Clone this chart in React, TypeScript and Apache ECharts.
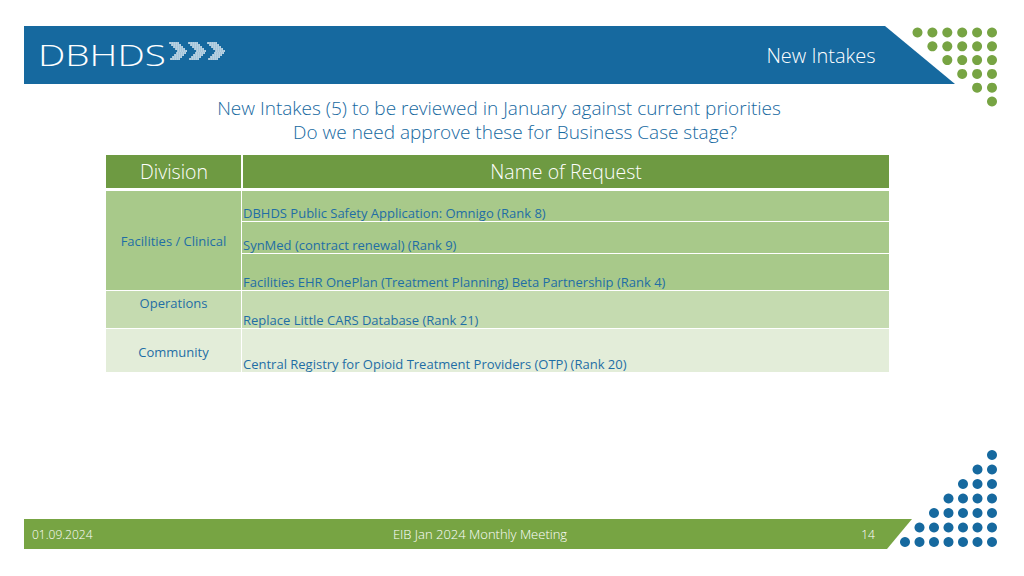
import React, { useEffect, useRef } from "react";
import * as echarts from "echarts";

// ---- Data ----
const slideTitle = "New Intakes";
const headingLine1 = "New Intakes (5) to be reviewed in January against current priorities";
const headingLine2 = "Do we need approve these for Business Case stage?";
const tableHeaders = ["Division", "Name of Request"];
const divisions = ["Facilities / Clinical", "Operations", "Community"];
const requests = [
  "DBHDS Public Safety Application: Omnigo (Rank 8)",
  "SynMed (contract renewal) (Rank 9)",
  "Facilities EHR OnePlan (Treatment Planning) Beta Partnership (Rank 4)",
  "Replace Little CARS Database (Rank 21)",
  "Central Registry for Opioid Treatment Providers (OTP) (Rank 20)",
];
const requestDivision = [0, 0, 0, 1, 2];
const footerDate = "01.09.2024";
const footerTitle = "EIB Jan 2024 Monthly Meeting";
const pageNumber = "14";
const topDotRows = [6, 5, 4, 3, 2, 1];
const bottomDotRows = [1, 2, 3, 4, 5, 6, 7];

// ---- Layout (positions / styles) ----
const BLUE = "#16699f";
const GREEN = "#77a443";
const TEXT_BLUE = "#1f6ea5";
const HEADER_GREEN = "#6e9a42";
const DIV_COLORS = ["#a8c98a", "#c5dbb0", "#e3edd9"];
const requestRowBounds = [
  [191, 221],
  [222, 253],
  [254, 290],
  [291, 328],
  [329, 372],
];
const divisionLabelY = [241, 303, 352];
const COL1_X0 = 106, COL1_X1 = 241, COL2_X0 = 243, COL2_X1 = 889;
const FONT = "'Open Sans', Lato, sans-serif";
const CELL_FONT = "'Open Sans', Lato, sans-serif";

function buildGraphics(): any[] {
  const g: any[] = [];
  g.push({
    type: "polygon",
    shape: { points: [[24, 26], [885, 26], [955, 84], [24, 84]] },
    style: { fill: BLUE },
  });
  g.push({
    type: "text",
    x: 38,
    y: 54,
    scaleX: 1.29,
    style: {
      text: "DBHDS",
      fill: "#ffffff",
      font: `300 30px ${FONT}`,
      verticalAlign: "middle",
    },
  });
  for (let k = 0; k < 3; k++) {
    const ox = 170 + k * 19;
    const oy = 43;
    const h = 17;
    const t = 8.5;
    const step = 2.0;
    for (let yy = 0; yy <= h + 0.01; yy += step) {
      const dy = h / 2 - Math.abs(yy - h / 2);
      for (let xx = dy; xx <= dy + t + 0.01; xx += step) {
        g.push({
          type: "circle",
          shape: { cx: ox + xx, cy: oy + yy, r: 0.85 },
          style: { fill: "#ffffff" },
          silent: true,
        });
      }
    }
  }
  g.push({
    type: "text",
    x: 821,
    y: 55,
    style: {
      text: slideTitle,
      fill: "#ffffff",
      font: `300 20px ${FONT}`,
      align: "center",
      verticalAlign: "middle",
    },
  });
  topDotRows.forEach((n, r) => {
    for (let i = 0; i < n; i++) {
      g.push({
        type: "circle",
        shape: { cx: 992 - i * 14.9, cy: 32.5 + r * 13.8, r: 5 },
        style: { fill: GREEN },
      });
    }
  });
  bottomDotRows.forEach((n, r) => {
    for (let i = 0; i < n; i++) {
      g.push({
        type: "circle",
        shape: { cx: 992 - i * 14.5, cy: 455 + r * 14.5, r: 5 },
        style: { fill: BLUE },
      });
    }
  });
  g.push({
    type: "text",
    x: 499,
    y: 107.5,
    style: {
      text: headingLine1,
      fill: BLUE,
      font: `300 19px ${FONT}`,
      align: "center",
      verticalAlign: "middle",
    },
  });
  g.push({
    type: "text",
    x: 515,
    y: 131.5,
    style: {
      text: headingLine2,
      fill: BLUE,
      font: `300 19px ${FONT}`,
      align: "center",
      verticalAlign: "middle",
    },
  });
  g.push({
    type: "rect",
    shape: { x: COL1_X0, y: 155, width: COL1_X1 - COL1_X0, height: 33 },
    style: { fill: HEADER_GREEN },
  });
  g.push({
    type: "rect",
    shape: { x: COL2_X0, y: 155, width: COL2_X1 - COL2_X0, height: 33 },
    style: { fill: HEADER_GREEN },
  });
  g.push({
    type: "text",
    x: 174,
    y: 171,
    style: { text: tableHeaders[0], fill: "#ffffff", font: `300 19.5px ${FONT}`, align: "center", verticalAlign: "middle" },
  });
  g.push({
    type: "text",
    x: 566,
    y: 171,
    style: { text: tableHeaders[1], fill: "#ffffff", font: `300 19.5px ${FONT}`, align: "center", verticalAlign: "middle" },
  });
  divisions.forEach((d, di) => {
    const rows = requestDivision
      .map((v, i) => (v === di ? i : -1))
      .filter((i) => i >= 0);
    const y0 = requestRowBounds[rows[0]][0];
    const y1 = requestRowBounds[rows[rows.length - 1]][1];
    g.push({
      type: "rect",
      shape: { x: COL1_X0, y: y0, width: COL1_X1 - COL1_X0, height: y1 - y0 },
      style: { fill: DIV_COLORS[di] },
    });
    g.push({
      type: "text",
      x: 173.5,
      y: divisionLabelY[di],
      style: { text: d, fill: TEXT_BLUE, font: `13px ${CELL_FONT}`, align: "center", verticalAlign: "middle" },
    });
  });
  requests.forEach((r, i) => {
    const [y0, y1] = requestRowBounds[i];
    g.push({
      type: "rect",
      shape: { x: COL2_X0 - 1, y: y0, width: COL2_X1 - COL2_X0 + 1, height: y1 - y0 },
      style: { fill: DIV_COLORS[requestDivision[i]] },
    });
    g.push({
      type: "text",
      x: COL2_X0,
      y: y1 - 8,
      style: { text: r, fill: TEXT_BLUE, font: `13px ${CELL_FONT}`, align: "left", verticalAlign: "middle" },
    });
  });
  g.push({
    type: "polygon",
    shape: { points: [[24, 519], [912, 519], [887, 549], [24, 549]] },
    style: { fill: GREEN },
  });
  g.push({
    type: "text",
    x: 32,
    y: 534,
    style: { text: footerDate, fill: "#ffffff", font: `300 12px ${FONT}`, align: "left", verticalAlign: "middle" },
  });
  g.push({
    type: "text",
    x: 480,
    y: 534,
    style: { text: footerTitle, fill: "#ffffff", font: `300 13px ${FONT}`, align: "center", verticalAlign: "middle" },
  });
  g.push({
    type: "text",
    x: 868,
    y: 534,
    style: { text: pageNumber, fill: "#ffffff", font: `300 12px ${FONT}`, align: "center", verticalAlign: "middle" },
  });
  return g;
}

export default function App() {
  const ref = useRef<HTMLDivElement>(null);
  useEffect(() => {
    document.body.style.margin = "0";
    const chart = echarts.init(ref.current!, undefined, { renderer: "svg" });
    chart.setOption({
      animation: false,
      backgroundColor: "#ffffff",
      graphic: { elements: buildGraphics() },
    });
    return () => chart.dispose();
  }, []);
  return (
    <div
      ref={ref}
      style={{ position: "fixed", left: 0, top: 0, width: 1024, height: 576, background: "#fff" }}
    />
  );
}
